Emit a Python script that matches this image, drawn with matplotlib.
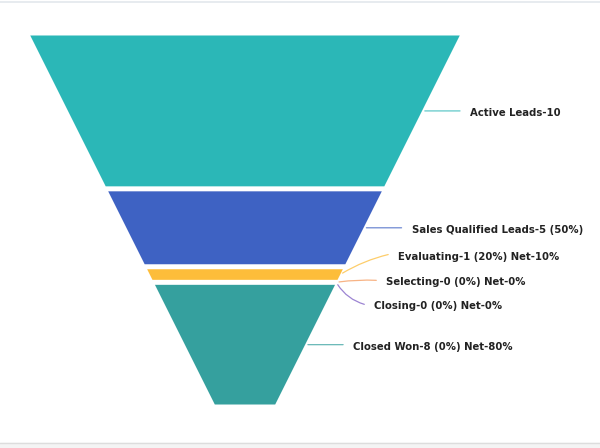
import matplotlib
matplotlib.use('Agg')
import matplotlib.pyplot as plt
import numpy as np

# dados do funil
etapas = ['Active Leads', 'Sales Qualified Leads', 'Evaluating', 'Selecting', 'Closing', 'Closed Won']
valores = [10, 5, 1, 0, 0, 8]
rotulos = ['Active Leads-10', 'Sales Qualified Leads-5 (50%)', 'Evaluating-1 (20%) Net-10%',
           'Selecting-0 (0%) Net-0%', 'Closing-0 (0%) Net-0%', 'Closed Won-8 (0%) Net-80%']
cores = ['#2bb7b7', '#3e62c3', '#fdbd3a', '#f59a5c', '#7c5cc4', '#35a09e']

# deslocamento (px) do fim da linha-guia em relação à borda do funil
desloc = [(38, 0), (38, 0), (48, 20), (40, 2), (28, -22), (38, 0)]
curva = [0, 0, 0.08, 0.05, -0.2, 0]

fig = plt.figure(figsize=(6, 4.48), dpi=100)
# bordas cinza do container
fig.patches.append(plt.Rectangle((0, 0), 1, 5 / 448, transform=fig.transFigure, color='#f4f4f4', zorder=0))
fig.lines.append(plt.Line2D([0, 1], [5 / 448, 5 / 448], transform=fig.transFigure, color='#dddddd', lw=1))
fig.lines.append(plt.Line2D([0, 1], [1 - 2.5 / 448, 1 - 2.5 / 448], transform=fig.transFigure, color='#e3e7ec', lw=1.2))

ax = fig.add_axes([29 / 600, 41 / 448, 432 / 600, 374 / 448])
total = sum(valores)
ax.set_xlim(-1, 1)
ax.set_ylim(total, 0)
ax.axis('off')

largura_base = 0.134
gap = 0.32
cum = np.concatenate([[0], np.cumsum(valores)])


def meia_largura(y):
    return 1 - (1 - largura_base) * y / total


for i, v in enumerate(valores):
    y0, y1 = cum[i], cum[i + 1]
    if v > 0:
        a, b = y0 + gap / 2, y1 - gap / 2
        xs = [-meia_largura(a), meia_largura(a), meia_largura(b), -meia_largura(b)]
        ys = [a, a, b, b]
        ax.fill(xs, ys, color=cores[i], lw=0)
    ym = (y0 + y1) / 2
    xm = meia_largura(ym)
    dx, dy = desloc[i]
    ax.annotate('', xy=(xm, ym), xytext=(dx, dy), textcoords='offset pixels',
                arrowprops=dict(arrowstyle='-', color=cores[i], alpha=0.75, lw=0.9,
                                shrinkA=0, shrinkB=2,
                                connectionstyle=f'arc3,rad={curva[i]}'))
    ax.annotate(rotulos[i], xy=(xm, ym), xytext=(dx + 10, dy - 2), textcoords='offset pixels',
                ha='left', va='center', fontsize=7.3, fontweight='bold', color='#222222',
                annotation_clip=False)

fig.savefig('out.png', dpi=100)
